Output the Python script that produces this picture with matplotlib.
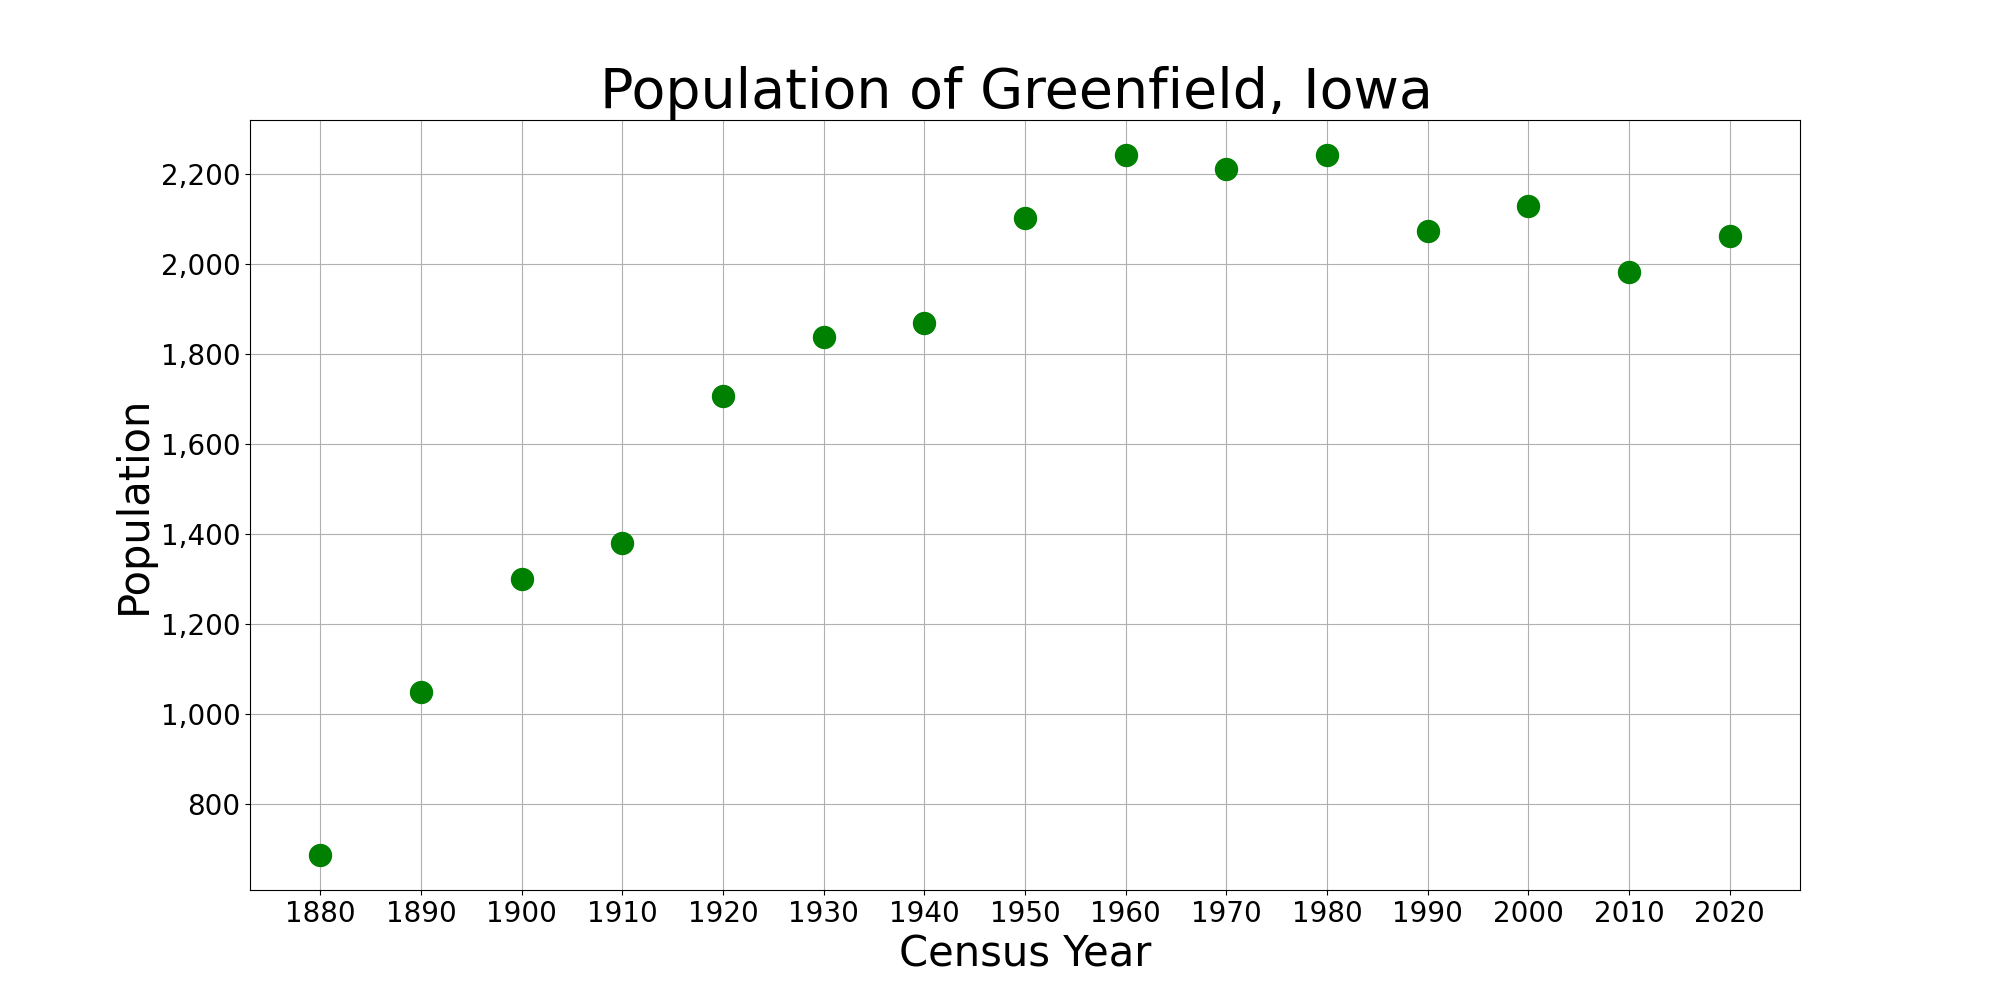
import matplotlib
matplotlib.use("Agg")
import matplotlib.pyplot as plt
from matplotlib.ticker import FuncFormatter

years = [1880, 1890, 1900, 1910, 1920, 1930, 1940, 1950, 1960, 1970, 1980, 1990, 2000, 2010, 2020]
population = [686, 1049, 1300, 1379, 1707, 1838, 1869, 2102, 2243, 2212, 2243, 2074, 2129, 1982, 2062]

fig, ax = plt.subplots(figsize=(20, 10), dpi=100)
ax.scatter(years, population, s=250, color="green", zorder=3)
ax.set_title("Population of Greenfield, Iowa ", fontsize=40)
ax.set_xlabel("Census Year", fontsize=30)
ax.set_ylabel("Population", fontsize=30)
ax.set_xticks(years)
ax.tick_params(axis="both", labelsize=20)
ax.yaxis.set_major_formatter(FuncFormatter(lambda v, p: f"{int(v):,}"))
ax.grid(True)
ax.set_axisbelow(True)
fig.savefig("out.png")
